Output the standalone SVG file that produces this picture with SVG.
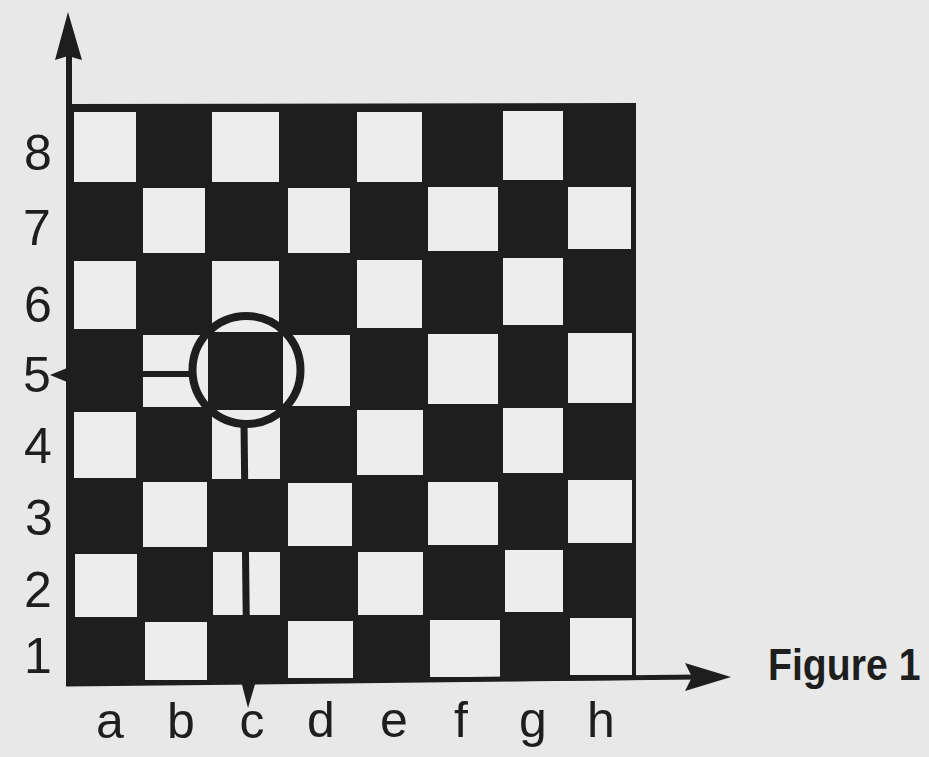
<svg xmlns="http://www.w3.org/2000/svg" width="929" height="757" viewBox="0 0 929 757">
<style>
.lt{fill:#ededed}
.dk{fill:#1e1e1e}
.lbl{font-family:"Liberation Sans",Arial,sans-serif;font-size:50px;fill:#1e1e1e;text-anchor:middle}
.fig{font-family:"Liberation Sans",Arial,sans-serif;font-size:40px;font-weight:bold;fill:#1e1e1e}
.ax{stroke:#1e1e1e;fill:none}
</style>
<rect width="929" height="757" fill="#e8e8e9"/>
<g id="board">
<polygon class="dk" points="69,104 636,103 636,680 69,685"/>
<!-- row 8 -->
<rect class="lt" x="74" y="112" width="62" height="70"/>
<rect class="lt" x="212" y="112" width="67" height="70"/>
<rect class="lt" x="357" y="112" width="65" height="70"/>
<rect class="lt" x="503" y="111" width="60" height="69"/>
<!-- row 7 -->
<rect class="lt" x="143" y="188" width="62" height="65"/>
<rect class="lt" x="288" y="188" width="62" height="65"/>
<rect class="lt" x="428" y="187" width="70" height="64"/>
<rect class="lt" x="568" y="187" width="63" height="62"/>
<!-- row 6 -->
<rect class="lt" x="74" y="261" width="62" height="68"/>
<rect class="lt" x="212" y="261" width="67" height="67"/>
<rect class="lt" x="357" y="260" width="65" height="68"/>
<rect class="lt" x="503" y="258" width="60" height="67"/>
<!-- row 5 -->
<rect class="lt" x="143" y="335" width="62" height="72"/>
<rect class="lt" x="288" y="335" width="62" height="71"/>
<rect class="lt" x="428" y="334" width="70" height="70"/>
<rect class="lt" x="568" y="333" width="64" height="70"/>
<!-- row 4 -->
<rect class="lt" x="74" y="412" width="62" height="66"/>
<rect class="lt" x="212" y="411" width="68" height="68"/>
<rect class="lt" x="357" y="410" width="66" height="65"/>
<rect class="lt" x="503" y="408" width="60" height="65"/>
<!-- row 3 -->
<rect class="lt" x="143" y="482" width="64" height="65"/>
<rect class="lt" x="288" y="483" width="64" height="63"/>
<rect class="lt" x="428" y="482" width="70" height="63"/>
<rect class="lt" x="568" y="480" width="64" height="63"/>
<!-- row 2 -->
<rect class="lt" x="75" y="554" width="62" height="63"/>
<rect class="lt" x="213" y="552" width="67" height="63"/>
<rect class="lt" x="358" y="552" width="65" height="63"/>
<rect class="lt" x="505" y="550" width="58" height="62"/>
<!-- row 1 -->
<rect class="lt" x="145" y="622" width="62" height="58"/>
<rect class="lt" x="288" y="621" width="65" height="57"/>
<rect class="lt" x="430" y="620" width="70" height="57"/>
<rect class="lt" x="570" y="618" width="62" height="57"/>
</g>
<g id="highlight">
<circle cx="246.5" cy="370" r="54" fill="#ededed"/>
<rect class="dk" x="208" y="332" width="75" height="78"/>
<circle cx="246.5" cy="370" r="54" class="ax" stroke-width="8"/>
</g>
<g id="connectors">
<line class="ax" x1="69" y1="686" x2="69" y2="52" stroke-width="6"/>
<polygon class="dk" points="68,12 82,60 68,56 55,60"/>
<line class="ax" x1="66" y1="684" x2="700" y2="677" stroke-width="5"/>
<polygon class="dk" points="731,677 685,663 692,677 685,691"/>
<line class="ax" x1="69" y1="374" x2="194" y2="374" stroke-width="6"/>
<polygon class="dk" points="50,375 72,366 72,384"/>
<line class="ax" x1="244" y1="423" x2="247" y2="684" stroke-width="7"/>
<polygon class="dk" points="241,681 256,681 248,708"/>
</g>
<g id="rank-labels">
<text class="lbl" x="38" y="170">8</text>
<text class="lbl" x="37" y="245">7</text>
<text class="lbl" x="38" y="322">6</text>
<text class="lbl" x="37" y="392">5</text>
<text class="lbl" x="38" y="463">4</text>
<text class="lbl" x="39" y="535">3</text>
<text class="lbl" x="38" y="607">2</text>
<text class="lbl" x="38" y="673">1</text>
</g>
<g id="file-labels">
<text class="lbl" x="110" y="738">a</text>
<text class="lbl" x="181" y="738">b</text>
<text class="lbl" x="252" y="738">c</text>
<text class="lbl" x="321" y="737">d</text>
<text class="lbl" x="394" y="737">e</text>
<text class="lbl" x="461" y="737">f</text>
<text class="lbl" x="533" y="737">g</text>
<text class="lbl" x="601" y="737">h</text>
</g>
<g id="caption">
<text class="fig" transform="translate(768,680) scale(0.98,1.1)" x="0" y="0">Figure 1</text>
</g>
</svg>
